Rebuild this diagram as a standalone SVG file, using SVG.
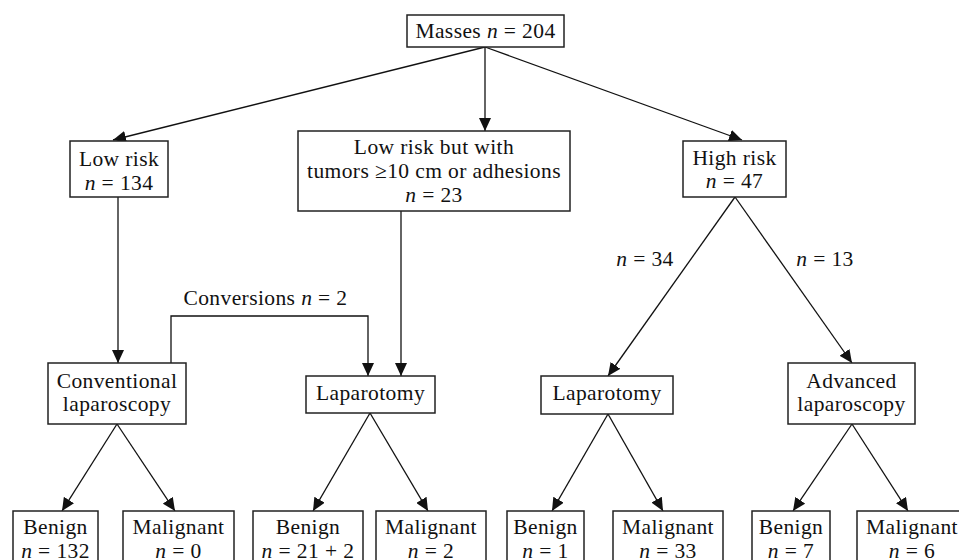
<svg xmlns="http://www.w3.org/2000/svg" width="959" height="560" viewBox="0 0 959 560" font-family="'Liberation Serif', 'DejaVu Serif', serif">
<style>
text{font-family:'Liberation Serif','DejaVu Serif',serif;font-size:21.5px;fill:#111;text-anchor:middle;letter-spacing:0.4px}
.i{font-style:italic}
rect{fill:#fff;stroke:#222;stroke-width:1.5}
.c path,.c line,.c polyline{fill:none;stroke:#111;stroke-width:1.3}
</style>
<defs>
<marker id="ah" markerUnits="userSpaceOnUse" markerWidth="14" markerHeight="12" refX="13" refY="6" orient="auto">
<path d="M0,0 L13,6 L0,12 Z" fill="#111"/>
</marker>
</defs>
<g class="c" id="connectors">
<line x1="485" y1="47" x2="113" y2="140" marker-end="url(#ah)"/>
<line x1="485" y1="47" x2="485" y2="131" marker-end="url(#ah)"/>
<line x1="485" y1="47" x2="742" y2="140" marker-end="url(#ah)"/>
<line x1="118" y1="197" x2="118" y2="363" marker-end="url(#ah)"/>
<line x1="401" y1="211" x2="401" y2="376" marker-end="url(#ah)"/>
<polyline points="171,363 171,316 368,316 368,376" marker-end="url(#ah)"/>
<line x1="735" y1="197" x2="608" y2="376" marker-end="url(#ah)"/>
<line x1="735" y1="197" x2="852" y2="363" marker-end="url(#ah)"/>
<line x1="117" y1="424" x2="62" y2="511" marker-end="url(#ah)"/>
<line x1="117" y1="424" x2="175" y2="511" marker-end="url(#ah)"/>
<line x1="370" y1="413" x2="313" y2="511" marker-end="url(#ah)"/>
<line x1="370" y1="413" x2="428" y2="511" marker-end="url(#ah)"/>
<line x1="608" y1="414" x2="552" y2="511" marker-end="url(#ah)"/>
<line x1="608" y1="414" x2="663" y2="511" marker-end="url(#ah)"/>
<line x1="852" y1="424" x2="793" y2="511" marker-end="url(#ah)"/>
<line x1="852" y1="424" x2="908" y2="511" marker-end="url(#ah)"/>
<text x="265.5" y="305">Conversions <tspan class="i">n</tspan> = 2</text>
<text x="645" y="266"><tspan class="i">n</tspan> = 34</text>
<text x="825" y="266"><tspan class="i">n</tspan> = 13</text>
</g>
<g id="masses"><rect x="407" y="15" width="157" height="32"/><text x="485.5" y="38">Masses <tspan class="i">n</tspan> = 204</text></g>
<g id="lowrisk"><rect x="70" y="141" width="98" height="56"/><text x="119" y="166">Low risk</text><text x="119" y="190"><tspan class="i">n</tspan> = 134</text></g>
<g id="lowrisk-large"><rect x="298" y="131" width="272" height="80"/><text x="434" y="154">Low risk but with</text><text x="434" y="178">tumors ≥10 cm or adhesions</text><text x="434" y="202"><tspan class="i">n</tspan> = 23</text></g>
<g id="highrisk"><rect x="683" y="141" width="103" height="56"/><text x="734.5" y="165">High risk</text><text x="734.5" y="188"><tspan class="i">n</tspan> = 47</text></g>
<g id="conventional"><rect x="48" y="363" width="138" height="61"/><text x="117" y="388">Conventional</text><text x="117" y="411">laparoscopy</text></g>
<g id="laparotomy1"><rect x="306" y="376" width="129" height="37"/><text x="370.5" y="400">Laparotomy</text></g>
<g id="laparotomy2"><rect x="541" y="376" width="132" height="38"/><text x="607" y="400">Laparotomy</text></g>
<g id="advanced"><rect x="788" y="363" width="127" height="61"/><text x="851.5" y="388">Advanced</text><text x="851.5" y="411">laparoscopy</text></g>
<g id="benign1"><rect x="13" y="511" width="85" height="65"/><text x="55.5" y="534">Benign</text><text x="55.5" y="558"><tspan class="i">n</tspan> = 132</text></g>
<g id="malignant1"><rect x="123" y="511" width="111" height="65"/><text x="178.5" y="534">Malignant</text><text x="178.5" y="558"><tspan class="i">n</tspan> = 0</text></g>
<g id="benign2"><rect x="253" y="511" width="110" height="65"/><text x="308" y="534">Benign</text><text x="308" y="558"><tspan class="i">n</tspan> = 21 + 2</text></g>
<g id="malignant2"><rect x="376" y="511" width="110" height="65"/><text x="431" y="534">Malignant</text><text x="431" y="558"><tspan class="i">n</tspan> = 2</text></g>
<g id="benign3"><rect x="507" y="511" width="77" height="65"/><text x="545.5" y="534">Benign</text><text x="545.5" y="558"><tspan class="i">n</tspan> = 1</text></g>
<g id="malignant3"><rect x="613" y="511" width="110" height="65"/><text x="668" y="534">Malignant</text><text x="668" y="558"><tspan class="i">n</tspan> = 33</text></g>
<g id="benign4"><rect x="752" y="511" width="78" height="65"/><text x="791" y="534">Benign</text><text x="791" y="558"><tspan class="i">n</tspan> = 7</text></g>
<g id="malignant4"><rect x="857" y="511" width="110" height="65"/><text x="912" y="534">Malignant</text><text x="912" y="558"><tspan class="i">n</tspan> = 6</text></g>
</svg>
